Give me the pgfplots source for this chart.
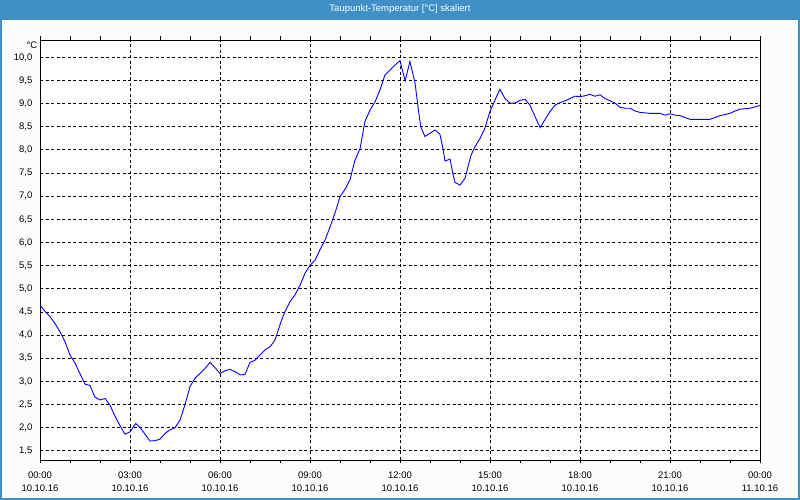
\documentclass[border=0pt]{standalone}
\usepackage{pgfplots}
\pgfplotsset{compat=1.18}
\usepackage{fontspec}
\setmainfont{Liberation Sans}
\definecolor{barblue}{RGB}{62,144,198}
\definecolor{bgc}{RGB}{251,253,251}
\begin{document}
\begin{tikzpicture}
\useasboundingbox (0pt,0pt) rectangle (800pt,500pt);
\fill[bgc] (0pt,0pt) rectangle (800pt,500pt);
\fill[barblue] (0pt,479.5pt) rectangle (800pt,500pt);
\draw[barblue,line width=2pt] (1pt,1pt) -- (1pt,480pt) (799pt,1pt) -- (799pt,480pt) (0pt,1pt) -- (800pt,1pt);
\node[text=white,font=\fontsize{9.5}{11}\selectfont] at (400pt,490.5pt) {Taupunkt-Temperatur [°C] skaliert};
\node[anchor=east,font=\fontsize{9.5}{11}\selectfont,inner sep=0pt] at (37.5pt,455pt) {°C};
\begin{axis}[
  at={(40pt,40pt)}, anchor=south west,
  scale only axis, width=720pt, height=420pt,
  xmin=0, xmax=24, ymin=1.302, ymax=10.374,
  axis background/.style={fill=white},
  axis line style={black, line width=0.8pt},
  xtick={0,3,...,24},
  minor xtick={1,2,4,5,7,8,10,11,13,14,16,17,19,20,22,23},
  xticklabels={00:00\\10.10.16,03:00\\10.10.16,06:00\\10.10.16,09:00\\10.10.16,12:00\\10.10.16,15:00\\10.10.16,18:00\\10.10.16,21:00\\10.10.16,00:00\\11.10.16},
  ytick={1.5,2,...,10},
  tick align=outside,
  major tick length=3.5pt, minor tick length=3.5pt,
  xtick style={black, line width=0.8pt},
  minor tick style={black, line width=0.8pt},
  ytick style={draw=none},
  xmajorgrids, ymajorgrids,
  grid style={black, line width=0.8pt, dash pattern=on 3pt off 2.5pt},
  /pgf/number format/assume math mode=true,
  yticklabel={\pgfmathprintnumber[fixed,fixed zerofill,precision=1,use comma]{\tick}},
  yticklabel style={font=\fontsize{9.5}{11}\selectfont, inner sep=0pt, xshift=-4pt},
  xticklabel style={font=\fontsize{9.5}{13}\selectfont, align=center, inner sep=0pt, yshift=-8pt},
  clip=true,
]
\addplot[blue, line width=0.9pt, mark=none] coordinates {
(0,4.65) (0.17,4.51) (0.33,4.40) (0.5,4.25) (0.67,4.07) (0.83,3.86) (1.0,3.57) (1.17,3.39) (1.33,3.17) (1.5,2.94) (1.67,2.91) (1.83,2.66) (2.0,2.60) (2.17,2.63) (2.33,2.49) (2.5,2.25) (2.67,2.04) (2.83,1.86) (3.0,1.91) (3.19,2.09) (3.33,2.01) (3.5,1.86) (3.67,1.71) (3.83,1.72) (4.0,1.75) (4.17,1.88) (4.33,1.95) (4.5,2.00) (4.67,2.17) (4.83,2.49) (5.0,2.89) (5.17,3.07) (5.33,3.17) (5.5,3.28) (5.67,3.41) (5.83,3.30) (6.0,3.17) (6.17,3.23) (6.33,3.26) (6.5,3.21) (6.67,3.14) (6.83,3.15) (7.0,3.41) (7.17,3.46) (7.33,3.57) (7.5,3.68) (7.67,3.75) (7.83,3.89) (7.95,4.12) (8.05,4.32) (8.17,4.51) (8.33,4.72) (8.5,4.87) (8.67,5.08) (8.83,5.33) (9.0,5.51) (9.17,5.62) (9.33,5.84) (9.5,6.05) (9.67,6.34) (9.83,6.63) (10.0,6.99) (10.17,7.15) (10.33,7.35) (10.5,7.78) (10.67,8.03) (10.83,8.61) (11.0,8.86) (11.17,9.04) (11.33,9.29) (11.5,9.62) (11.67,9.73) (11.83,9.83) (12.0,9.93) (12.17,9.49) (12.33,9.91) (12.5,9.45) (12.6,8.93) (12.69,8.50) (12.83,8.29) (13.0,8.36) (13.17,8.43) (13.33,8.34) (13.42,8.07) (13.5,7.76) (13.67,7.80) (13.76,7.49) (13.83,7.30) (14.0,7.24) (14.17,7.39) (14.28,7.67) (14.37,7.89) (14.5,8.07) (14.67,8.25) (14.83,8.47) (15.0,8.83) (15.17,9.08) (15.33,9.31) (15.5,9.11) (15.67,9.01) (15.83,9.01) (16.0,9.07) (16.17,9.09) (16.33,8.97) (16.5,8.72) (16.67,8.48) (16.83,8.65) (17.0,8.83) (17.17,8.97) (17.33,9.02) (17.5,9.06) (17.67,9.11) (17.83,9.16) (18.0,9.15) (18.17,9.17) (18.33,9.20) (18.5,9.16) (18.67,9.19) (18.83,9.11) (19.0,9.06) (19.17,9.01) (19.33,8.92) (19.5,8.90) (19.67,8.90) (19.83,8.84) (20.0,8.81) (20.33,8.79) (20.67,8.79) (20.83,8.75) (21.0,8.78) (21.17,8.75) (21.33,8.74) (21.5,8.70) (21.67,8.66) (22.0,8.66) (22.33,8.66) (22.5,8.70) (22.67,8.74) (23.0,8.79) (23.17,8.84) (23.33,8.88) (23.67,8.90) (23.83,8.93) (24.0,8.96)
};
\end{axis}
\end{tikzpicture}
\end{document}
